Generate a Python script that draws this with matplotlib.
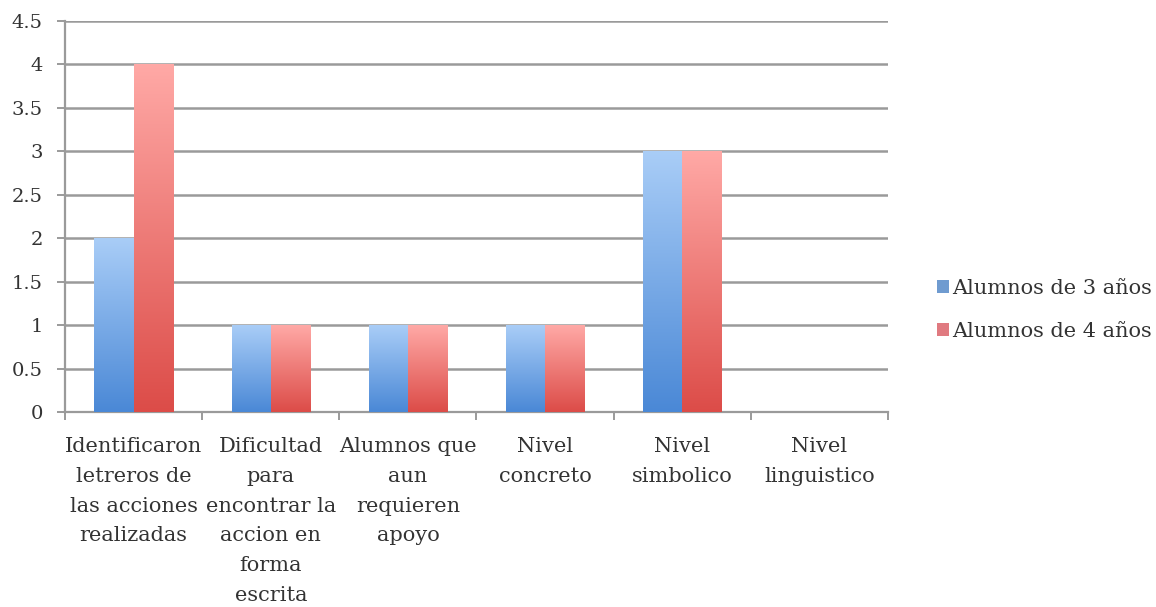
import numpy as np
import matplotlib
matplotlib.use('Agg')
import matplotlib.pyplot as plt
from matplotlib.colors import LinearSegmentedColormap
from matplotlib.patches import Patch

categorias = ['Identificaron\nletreros de\nlas acciones\nrealizadas',
              'Dificultad\npara\nencontrar la\naccion en\nforma\nescrita',
              'Alumnos que\naun\nrequieren\napoyo',
              'Nivel\nconcreto',
              'Nivel\nsimbolico',
              'Nivel\nlinguistico']
alumnos_3 = [2, 1, 1, 1, 3, 0]
alumnos_4 = [4, 1, 1, 1, 3, 0]
series = ['Alumnos de 3 años', 'Alumnos de 4 años']
marcas_y = ['0', '0.5', '1', '1.5', '2', '2.5', '3', '3.5', '4', '4.5']

plt.rcParams['font.family'] = ['DejaVu Serif']

fig = plt.figure(figsize=(11.56, 6.07), dpi=100)
ax = fig.add_axes([65 / 1156, 1 - 412 / 607, 823 / 1156, 391 / 607])

x = np.arange(len(categorias))
ancho = 0.285
cmap_azul = LinearSegmentedColormap.from_list('azul', ['#4a88d6', '#a9cdf7'])
cmap_rojo = LinearSegmentedColormap.from_list('rojo', ['#dc4c48', '#ffa9a6'])

def barras_degradado(posiciones, valores, cmap):
	# barras transparentes rellenas con un degradado vertical
	barras = ax.bar(posiciones, valores, ancho, facecolor='none', edgecolor='none', zorder=3)
	for barra in barras:
		h = barra.get_height()
		if h <= 0:
			continue
		x0 = barra.get_x()
		grad = np.linspace(0, 1, 256).reshape(-1, 1)
		img = ax.imshow(grad, cmap=cmap, origin='lower', aspect='auto',
						extent=(x0, x0 + barra.get_width(), 0, h), zorder=3)
		img.set_clip_path(barra)
	return barras

barras_degradado(x - ancho / 2, alumnos_3, cmap_azul)
barras_degradado(x + ancho / 2, alumnos_4, cmap_rojo)

ax.set_xlim(-0.5, len(categorias) - 0.5)
ax.set_ylim(0, 4.5)
ax.set_yticks(np.arange(0, 4.51, 0.5))
ax.set_yticklabels(marcas_y)
ax.yaxis.grid(True, color='#9a9a9a', linewidth=1.8, zorder=0)
ax.set_axisbelow(True)

ax.set_xticks(x)
ax.set_xticklabels(categorias, fontsize=15, linespacing=1.72, color='#333333')
ax.tick_params(axis='x', length=0, pad=18)
ax.set_xticks(np.arange(-0.5, len(categorias)), minor=True)
ax.tick_params(axis='x', which='minor', length=6, color='#9a9a9a', width=1.4)
ax.tick_params(axis='y', labelsize=14, length=6, color='#9a9a9a', width=1.4,
			   labelcolor='#333333', pad=10)

for lado in ['top', 'right']:
	ax.spines[lado].set_visible(False)
for lado in ['left', 'bottom']:
	ax.spines[lado].set_color('#9a9a9a')
	ax.spines[lado].set_linewidth(1.6)

manejadores = [Patch(facecolor='#6f9bd0'), Patch(facecolor='#e07a80')]
fig.legend(manejadores, series, loc='center left', bbox_to_anchor=(918 / 1156, 1 - 310 / 607),
		   frameon=False, fontsize=15, handlelength=0.6, handleheight=0.6,
		   handletextpad=0.15, labelspacing=1.15, labelcolor='#333333')

fig.savefig('out.png', dpi=100, facecolor='white')
